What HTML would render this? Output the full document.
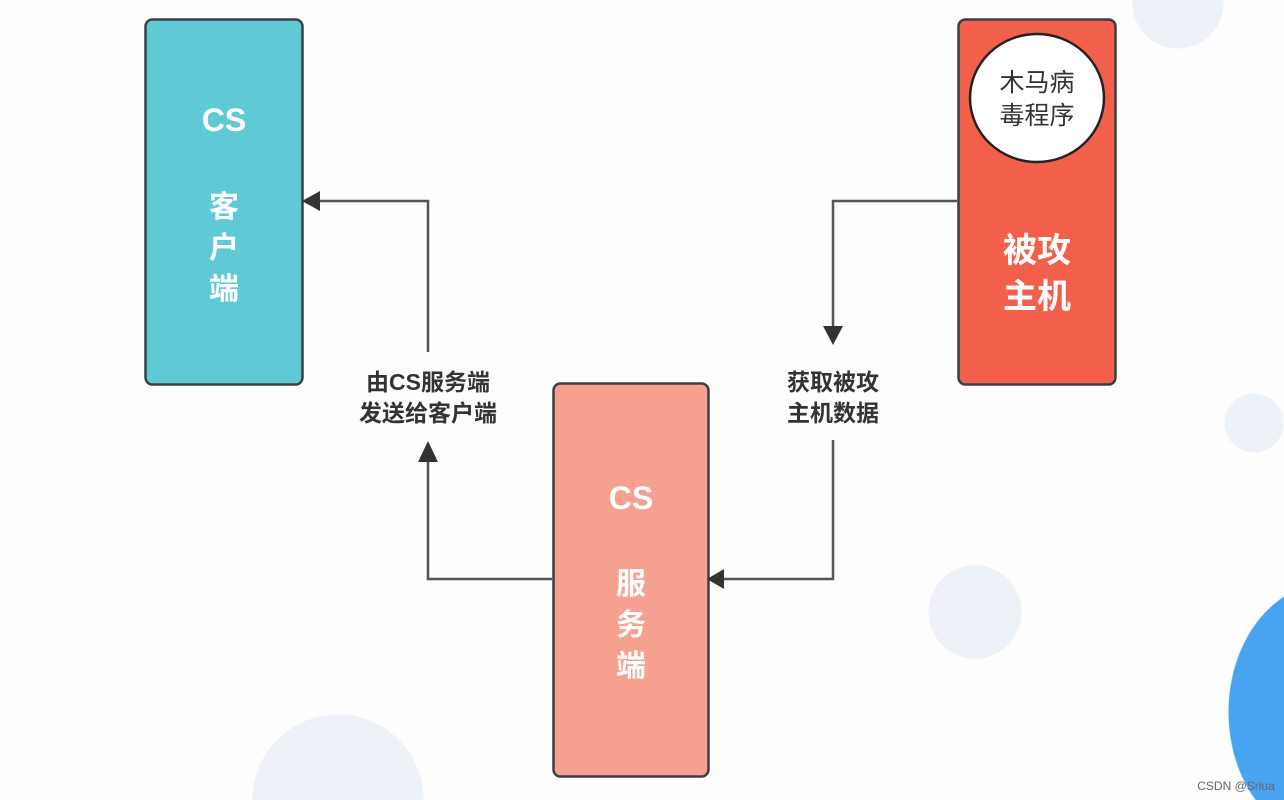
<!DOCTYPE html>
<html><head><meta charset="utf-8"><style>
html,body{margin:0;padding:0;width:1284px;height:800px;overflow:hidden;}
body{background:
radial-gradient(circle 46px at 1178px 3px,#edf2f8 98%,transparent 100%),
radial-gradient(circle 30px at 1254px 423px,#edf2f8 97%,transparent 100%),
radial-gradient(circle 47px at 975px 612px,#edf2f8 98%,transparent 100%),
radial-gradient(circle 86px at 338px 800px,#edf2f8 99%,transparent 100%),
radial-gradient(ellipse 102px 130px at 1330px 712px,#48a3f1 99%,transparent 100%),
#fdfdfd;}
svg{display:block;position:absolute;left:0;top:0}
text{font-family:"Liberation Sans","Noto Sans CJK SC",sans-serif;}
</style></head><body>
<svg width="1284" height="800" viewBox="0 0 1284 800" xmlns="http://www.w3.org/2000/svg">
<rect x="145.5" y="19.5" width="157" height="365" rx="7" fill="#5fcad6" stroke="#3b3f44" stroke-width="2.5"/>
<rect x="958.5" y="19.5" width="157" height="365" rx="7" fill="#f2604c" stroke="#3b3f44" stroke-width="2.5"/>
<rect x="553.5" y="383.5" width="155" height="393" rx="7" fill="#f6a090" stroke="#3b3f44" stroke-width="2.5"/>
<ellipse cx="1037" cy="98" rx="67" ry="64" fill="#fff" stroke="#222" stroke-width="2.5"/>
<g fill="#fff" font-weight="bold" text-anchor="middle">
<text x="224" y="131" font-size="32">CS</text>
<text x="224" y="217" font-size="30">客</text>
<text x="224" y="258" font-size="30">户</text>
<text x="224" y="299" font-size="30">端</text>
<text x="631" y="509" font-size="32">CS</text>
<text x="631" y="594" font-size="30">服</text>
<text x="631" y="635" font-size="30">务</text>
<text x="631" y="676" font-size="30">端</text>
<text x="1037" y="262" font-size="34">被攻</text>
<text x="1037" y="308" font-size="34">主机</text>
</g>
<g fill="#333" text-anchor="middle" font-size="25">
<text x="1037" y="91">木马病</text>
<text x="1037" y="124">毒程序</text>
</g>
<g fill="#333" text-anchor="middle" font-size="23" font-weight="bold">
<text x="428" y="390">由CS服务端</text>
<text x="428" y="421">发送给客户端</text>
<text x="833" y="390">获取被攻</text>
<text x="833" y="421">主机数据</text>
</g>
<g fill="none" stroke="#555" stroke-width="2.5">
<polyline points="957,201 833,201 833,326"/>
<polyline points="833,440 833,579 724,579"/>
<polyline points="552,579 428,579 428,462"/>
<polyline points="428,352 428,201 318,201"/>
</g>
<g fill="#333">
<polygon points="823,326 843,326 833,345"/>
<polygon points="724,569 724,589 707,579"/>
<polygon points="418,462 438,462 428,441"/>
<polygon points="320,191 320,211 302,201"/>
</g>
<text x="1236" y="790" font-size="12" fill="#666" text-anchor="middle">CSDN @Srlua</text>
</svg>
</body></html>
